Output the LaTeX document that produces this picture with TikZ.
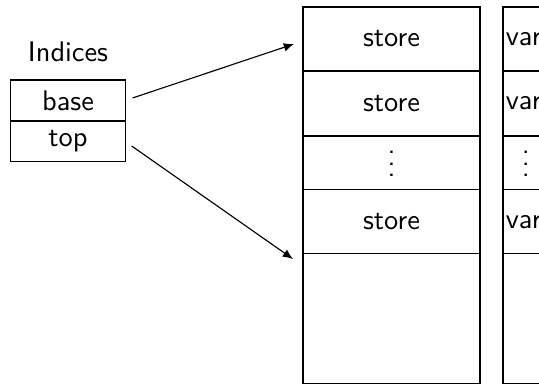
\documentclass[tikz,border=0pt]{standalone}
\usepackage{tikz}
\usetikzlibrary{arrows.meta,positioning}

\begin{document}
\begin{tikzpicture}[
  x=0.3522pt, y=-0.3522pt,
  node distance=0pt,
  cell/.style={draw, outer sep=0pt, minimum width=62.3pt, font=\sffamily},
  varcell/.style={cell, inner xsep=1pt, text width=60.3pt, align=left},
  dotcell/.style={minimum height=19pt, inner ysep=0pt},
  idx/.style={draw, outer sep=0pt, minimum width=40.2pt, minimum height=14.4pt,
    font=\sffamily},
  arrow/.style={-{Latex[length=3.6pt, width=3pt]}, shorten <=2.8pt}
]
\clip (0,0) rectangle (539,385);
\node[font=\sffamily] (title) at (68,52) {Indices};
\node[idx] (base) at (68,100.5) {base};
\node[idx, below=of base] (top) {top};

% store column
\node[cell, minimum height=22.5pt] (s1) at (391.5,39) {store};
\node[cell, minimum height=22.9pt, below=of s1] (s2) {store};
\node[cell, dotcell, below=of s2] (sdots) {\raisebox{-4.8pt}[0pt][0pt]{$\vdots$}};
\node[cell, minimum height=22.5pt, below=of sdots] (s3) {store};
\node[cell, minimum height=45.8pt, below=of s3] (sfree) {};

% var column
\node[varcell, minimum height=22.5pt, right=8.1pt of s1] (v1) {var};
\node[varcell, minimum height=22.9pt, below=of v1] (v2) {var};
\node[varcell, dotcell, below=of v2] (vdots)
  {\hspace*{5.7pt}\raisebox{-4.8pt}[0pt][0pt]{$\vdots$}};
\node[varcell, minimum height=22.5pt, below=of vdots] (v3) {var};
\node[varcell, minimum height=45.8pt, below=of v3] (vfree) {};

\coordinate (basetip) at (294,44);
\coordinate (toptip) at (293,259);
\draw[arrow] (base.east) -- (basetip);
\draw[arrow] (top.east) -- (toptip);
\end{tikzpicture}
\end{document}
